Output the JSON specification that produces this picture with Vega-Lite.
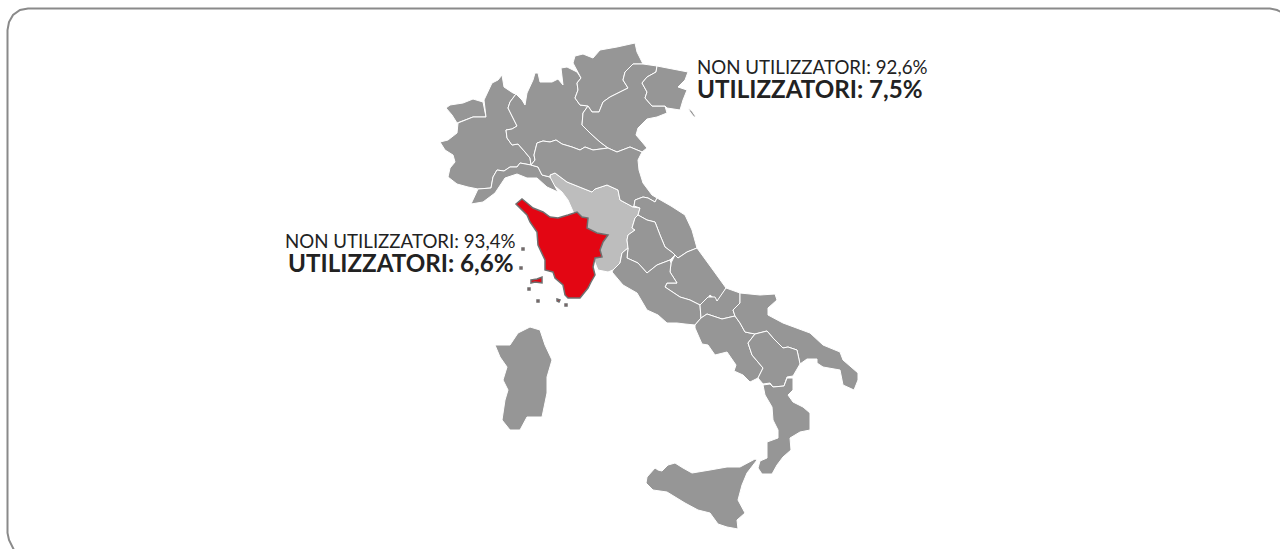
{
"$schema":"https://vega.github.io/schema/vega-lite/v6.json",
"width":1280,"height":549,"padding":0,"autosize":{"type":"none"},
"background":"white",
"view":{"stroke":null},
"projection":{"type":"identity","scale":1,"translate":[0,0]},
"layer":[
{"data":{"values":[{"type":"Feature","properties":{"nome":"cornice"},"geometry":{"type":"LineString","coordinates":[[1281,12],[1277,10],[1270,8.5],[28,8.5],[20,10],[13,15],[9,22],[7.5,30],[7.5,533],[9,540],[14,550]]}}]},
"mark":{"type":"geoshape","filled":false,"stroke":"#8a8a8a","strokeWidth":2}},
{"data":{"values":[
{"type":"Feature","properties":{"gruppo":"chiaro","nome":"Toscana"},"geometry":{"type":"Polygon","coordinates":[[[550,175],[555,173],[567,182],[582,188],[592,192],[595,189],[607,185],[618,190],[620,200],[633,207],[640,208],[638,215],[635,218],[632,228],[635,230],[628,235],[627,240],[628,248],[622,253],[620,263],[613,270],[608,272],[598,270],[590,250],[568,200],[562,192],[550,182],[550,175]]]}},
{"type":"Feature","properties":{"gruppo":"grigio","nome":"Valle d'Aosta"},"geometry":{"type":"Polygon","coordinates":[[[446,108],[450,105],[463,103],[473,99],[483,102],[486,117],[473,117],[457,123],[452,115],[446,108]]]}},
{"type":"Feature","properties":{"gruppo":"grigio","nome":"Piemonte"},"geometry":{"type":"Polygon","coordinates":[[[484,100],[492,83],[498,80],[502,75],[504,87],[513,93],[516,94],[510,102],[508,108],[513,118],[517,126],[512,129],[506,130],[507,138],[512,145],[518,144],[525,152],[530,158],[531,165],[520,163],[517,167],[510,167],[504,171],[497,170],[493,177],[491,188],[478,189],[468,187],[457,184],[448,177],[450,168],[455,162],[453,155],[445,150],[440,142],[448,140],[457,133],[458,123],[473,117],[486,117],[484,100]]]}},
{"type":"Feature","properties":{"gruppo":"grigio","nome":"Liguria"},"geometry":{"type":"Polygon","coordinates":[[[478,189],[471,204],[483,202],[495,193],[505,178],[517,174],[527,178],[537,178],[547,187],[558,192],[550,177],[542,175],[538,167],[531,165],[520,163],[517,167],[510,167],[504,171],[497,170],[493,177],[491,188],[478,189]]]}},
{"type":"Feature","properties":{"gruppo":"grigio","nome":"Lombardia"},"geometry":{"type":"Polygon","coordinates":[[[516,94],[522,100],[525,105],[527,93],[533,80],[535,73],[538,73],[540,82],[552,82],[558,79],[563,85],[561,68],[567,67],[577,72],[581,78],[577,83],[578,90],[575,98],[580,105],[588,106],[583,113],[582,125],[590,133],[600,142],[608,148],[593,150],[585,147],[580,150],[572,147],[562,144],[556,140],[550,142],[543,141],[537,143],[534,155],[535,160],[531,165],[530,158],[525,152],[518,144],[512,145],[507,138],[506,130],[512,129],[517,126],[513,118],[508,108],[510,102],[516,94]]]}},
{"type":"Feature","properties":{"gruppo":"grigio","nome":"Trentino-Alto Adige"},"geometry":{"type":"Polygon","coordinates":[[[581,78],[573,63],[575,56],[583,54],[593,58],[600,50],[617,47],[635,43],[637,52],[643,64],[633,64],[625,72],[623,80],[628,88],[618,93],[610,97],[603,102],[599,112],[592,112],[588,106],[580,105],[575,98],[578,90],[577,83],[581,78]]]}},
{"type":"Feature","properties":{"gruppo":"grigio","nome":"Veneto"},"geometry":{"type":"Polygon","coordinates":[[[643,64],[657,66],[656,72],[647,77],[642,83],[647,92],[645,98],[652,106],[665,106],[667,113],[657,117],[647,119],[638,128],[636,135],[642,142],[647,148],[642,152],[630,147],[617,152],[608,148],[600,142],[590,133],[582,125],[583,113],[588,106],[592,112],[599,112],[603,102],[610,97],[618,93],[628,88],[623,80],[625,72],[633,64],[643,64]]]}},
{"type":"Feature","properties":{"gruppo":"grigio","nome":"Friuli-Venezia Giulia"},"geometry":{"type":"MultiPolygon","coordinates":[[[[657,66],[688,72],[685,80],[678,87],[687,90],[683,100],[680,110],[667,108],[665,106],[652,106],[645,98],[647,92],[642,83],[647,77],[656,72],[657,66]]],[[[688,108],[692,111],[696,117],[694,117],[690,112],[688,108]]]]}},
{"type":"Feature","properties":{"gruppo":"grigio","nome":"Emilia-Romagna"},"geometry":{"type":"Polygon","coordinates":[[[531,165],[535,160],[534,155],[537,143],[543,141],[550,142],[556,140],[562,144],[572,147],[580,150],[585,147],[593,150],[608,148],[617,152],[630,147],[642,152],[638,160],[639,170],[643,183],[652,195],[657,198],[655,202],[648,198],[643,197],[635,200],[634,206],[633,207],[620,200],[618,190],[607,185],[595,189],[592,192],[582,188],[567,182],[555,173],[550,175],[550,177],[542,175],[538,167],[531,165]]]}},
{"type":"Feature","properties":{"gruppo":"grigio","nome":"Marche"},"geometry":{"type":"Polygon","coordinates":[[[657,198],[671,206],[685,215],[692,230],[697,248],[687,252],[678,258],[675,255],[673,253],[665,247],[660,235],[655,222],[647,220],[638,215],[640,208],[634,206],[635,200],[643,197],[648,198],[655,202],[657,198]]]}},
{"type":"Feature","properties":{"gruppo":"grigio","nome":"Umbria"},"geometry":{"type":"Polygon","coordinates":[[[638,215],[647,220],[655,222],[660,235],[665,247],[673,253],[675,255],[670,260],[657,265],[647,273],[638,263],[627,258],[628,248],[627,240],[628,235],[635,230],[632,228],[635,218],[638,215]]]}},
{"type":"Feature","properties":{"gruppo":"grigio","nome":"Abruzzo"},"geometry":{"type":"Polygon","coordinates":[[[697,248],[713,270],[726,288],[720,298],[717,301],[710,295],[707,300],[700,305],[690,300],[680,297],[665,287],[667,283],[677,283],[670,272],[671,263],[675,255],[678,258],[687,252],[697,248]]]}},
{"type":"Feature","properties":{"gruppo":"grigio","nome":"Lazio"},"geometry":{"type":"Polygon","coordinates":[[[612,272],[623,285],[637,293],[647,310],[658,315],[667,323],[677,323],[685,324],[695,325],[701,318],[700,305],[690,300],[680,297],[665,287],[667,283],[677,283],[670,272],[671,263],[670,260],[657,265],[647,273],[638,263],[627,258],[628,248],[622,253],[620,263],[613,270],[612,272]]]}},
{"type":"Feature","properties":{"gruppo":"grigio","nome":"Molise"},"geometry":{"type":"Polygon","coordinates":[[[726,288],[740,293],[740,303],[733,310],[735,316],[722,319],[707,314],[701,318],[700,305],[708,297],[715,297],[717,301],[726,288]]]}},
{"type":"Feature","properties":{"gruppo":"grigio","nome":"Campania"},"geometry":{"type":"Polygon","coordinates":[[[695,325],[701,318],[707,314],[722,319],[735,316],[740,323],[745,332],[755,334],[748,343],[752,355],[763,368],[758,378],[750,382],[743,375],[734,371],[736,365],[727,352],[715,355],[708,345],[702,344],[695,328],[695,325]]]}},
{"type":"Feature","properties":{"gruppo":"grigio","nome":"Puglia"},"geometry":{"type":"Polygon","coordinates":[[[740,293],[760,295],[775,294],[777,300],[768,308],[768,315],[783,323],[810,333],[823,345],[840,352],[843,360],[858,373],[858,380],[854,390],[843,385],[840,370],[823,367],[817,363],[817,359],[807,359],[800,364],[797,350],[788,347],[783,348],[773,338],[767,331],[755,334],[745,332],[740,323],[735,316],[733,310],[740,303],[740,293]]]}},
{"type":"Feature","properties":{"gruppo":"grigio","nome":"Basilicata"},"geometry":{"type":"Polygon","coordinates":[[[755,334],[767,331],[773,338],[783,348],[788,347],[797,350],[800,364],[793,376],[787,377],[784,386],[773,387],[770,383],[763,384],[758,378],[763,368],[752,355],[748,343],[755,334]]]}},
{"type":"Feature","properties":{"gruppo":"grigio","nome":"Calabria"},"geometry":{"type":"Polygon","coordinates":[[[763,385],[770,384],[773,387],[784,386],[787,378],[793,378],[793,390],[788,395],[793,402],[803,407],[810,413],[810,430],[800,432],[790,438],[791,450],[783,457],[777,465],[772,474],[762,474],[758,468],[760,461],[767,458],[767,448],[767,442],[778,438],[778,430],[773,420],[772,407],[765,395],[763,385]]]}},
{"type":"Feature","properties":{"gruppo":"grigio","nome":"Sicilia"},"geometry":{"type":"Polygon","coordinates":[[[647,477],[655,468],[658,470],[662,471],[668,465],[675,463],[683,468],[692,473],[710,470],[727,467],[740,467],[755,459],[757,460],[747,473],[742,485],[738,500],[745,513],[737,520],[738,529],[727,527],[718,524],[710,513],[698,510],[685,503],[667,492],[653,490],[646,483],[647,477]]]}},
{"type":"Feature","properties":{"gruppo":"grigio","nome":"Sardegna"},"geometry":{"type":"Polygon","coordinates":[[[495,345],[510,345],[518,333],[530,327],[540,330],[545,345],[552,360],[547,377],[547,393],[542,417],[527,417],[520,430],[510,430],[502,420],[505,400],[508,390],[503,380],[507,367],[500,357],[495,345]]]}},
{"type":"Feature","properties":{"gruppo":"rosso","nome":"Toscana evidenziata"},"geometry":{"type":"MultiPolygon","coordinates":[[[[516,204],[522,199],[527,203],[533,208],[543,212],[550,217],[558,218],[568,215],[577,212],[582,217],[588,218],[587,228],[597,233],[608,235],[603,242],[600,250],[602,257],[595,258],[593,267],[595,275],[591,282],[588,288],[580,298],[568,298],[565,295],[563,285],[555,278],[553,272],[545,270],[545,260],[538,245],[537,232],[530,222],[527,215],[516,204]]],[[[531,280],[537,279],[542,277],[542,283],[535,282],[531,283],[531,280]]],[[[528,288],[530,288],[530,290],[528,290],[528,288]]],[[[557,299],[560,300],[559,302],[557,301],[557,299]]],[[[565,304],[567,304],[567,306],[565,306],[565,304]]],[[[537,300],[539,300],[539,302],[537,302],[537,300]]],[[[522,248],[524,248],[524,250],[522,250],[522,248]]],[[[520,267],[522,267],[522,269],[520,269],[520,267]]]]}}
]},
"mark":{"type":"geoshape"},
"encoding":{
"fill":{"field":"properties.gruppo","type":"nominal","legend":null,"scale":{"domain":["grigio","chiaro","rosso"],"range":["#969696","#bdbdbd","#e30613"]}},
"stroke":{"field":"properties.gruppo","type":"nominal","legend":null,"scale":{"domain":["grigio","chiaro","rosso"],"range":["#ffffff","#ffffff","#6f6f6f"]}},
"strokeWidth":{"condition":{"test":"datum.properties.gruppo==='rosso'","value":1.5},"value":1}
}},
{"data":{"values":[
{"testo":"NON UTILIZZATORI: 92,6%","px":697,"py":74},
{"testo":"NON UTILIZZATORI: 93,4%","px":285,"py":248}
]},
"mark":{"type":"text","font":"Lato","fontSize":18.7,"align":"left","baseline":"alphabetic","color":"#222222"},
"encoding":{"longitude":{"field":"px","type":"quantitative"},"latitude":{"field":"py","type":"quantitative"},"text":{"field":"testo"}}},
{"data":{"values":[
{"testo":"UTILIZZATORI: 7,5%","px":697,"py":98},
{"testo":"UTILIZZATORI: 6,6%","px":288,"py":272}
]},
"mark":{"type":"text","font":"Lato","fontSize":24.2,"fontWeight":"bold","align":"left","baseline":"alphabetic","color":"#222222"},
"encoding":{"longitude":{"field":"px","type":"quantitative"},"latitude":{"field":"py","type":"quantitative"},"text":{"field":"testo"}}}
]
}
